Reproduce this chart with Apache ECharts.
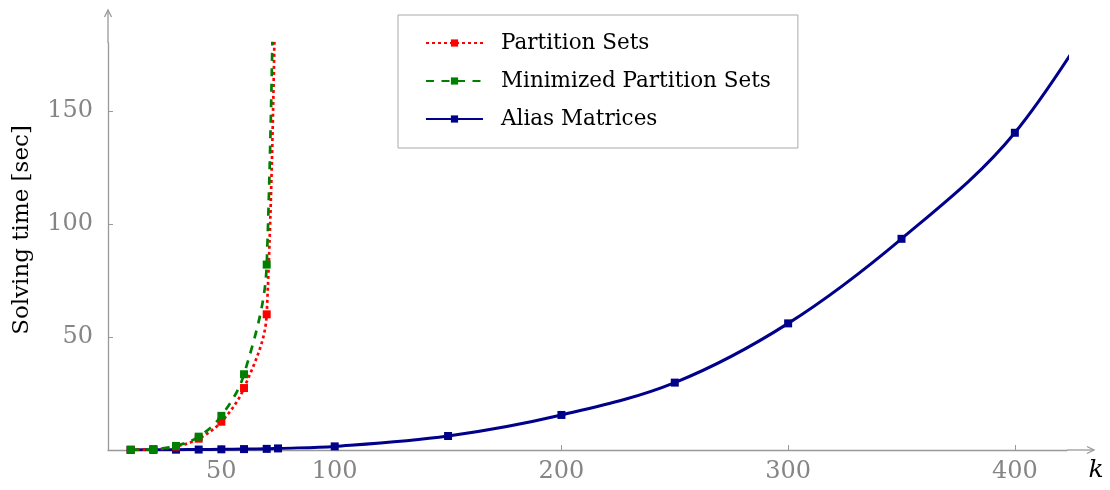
<!DOCTYPE html>
<html>
<head>
<meta charset="utf-8">
<script src="https://cdn.jsdelivr.net/npm/echarts@6/dist/echarts.min.js"></script>
<style>
html,body{margin:0;padding:0;background:#fff;}
#chart{width:1110px;height:490px;}
</style>
</head>
<body>
<div id="chart"></div>
<script>
// ---- data ----
const kPartition = [10, 20, 30, 40, 50, 60, 70, 75];
const partitionSets = [0.1, 0.3, 1.5, 5.0, 12.5, 27.4, 60, 350];
const minimizedPartitionSets = [0.1, 0.35, 1.8, 5.9, 15.1, 33.5, 82, 450];
const kAlias = [10, 20, 30, 40, 50, 60, 70, 75, 100, 150, 200, 250, 300, 350, 400, 450];
const aliasMatrices = [0.05, 0.1, 0.15, 0.2, 0.3, 0.4, 0.5, 0.7, 1.6, 6.2, 15.5, 29.8, 56, 93.4, 140.3, 216];
const xTicks = [50, 100, 200, 300, 400];
const yTicks = [50, 100, 150];
const seriesNames = ['Partition Sets', 'Minimized Partition Sets', 'Alias Matrices'];
const xMax = 423, yMax = 180;

const FONT = 'DejaVu Serif';
const AXIS = '#999999';
const LABEL = '#858585';

function pairs(xs, ys) { return xs.map((x, i) => [x, ys[i]]); }

const chart = echarts.init(document.getElementById('chart'), null, {renderer: 'canvas'});
chart.setOption({
  animation: false,
  backgroundColor: '#fff',
  grid: {left: 108, right: 43, top: 43, bottom: 40, containLabel: false},
  legend: {
    orient: 'vertical',
    left: 398, top: 15,
    backgroundColor: '#fff',
    borderColor: '#aaaaaa', borderWidth: 1, borderRadius: 0,
    padding: [17, 27, 18, 27],
    itemWidth: 57, itemHeight: 9, itemGap: 16,
    textStyle: {fontFamily: FONT, fontSize: 21.5, color: '#000', padding: [0, 0, 0, 13]},
    data: seriesNames
  },
  xAxis: {
    type: 'value', min: 0, max: xMax,
    splitLine: {show: false},
    axisLine: {show: true, onZero: false, lineStyle: {color: AXIS, width: 1.3}},
    axisTick: {show: true, inside: true, length: 5, customValues: xTicks, lineStyle: {color: AXIS}},
    axisLabel: {customValues: xTicks, margin: 10, fontFamily: FONT, fontSize: 24, color: LABEL}
  },
  yAxis: {
    type: 'value', min: 0, max: yMax,
    splitLine: {show: false},
    axisLine: {show: true, onZero: false, lineStyle: {color: AXIS, width: 1.3}},
    axisTick: {show: true, inside: true, length: 5, customValues: yTicks, lineStyle: {color: AXIS}},
    axisLabel: {customValues: yTicks, margin: 15, fontFamily: FONT, fontSize: 24, color: LABEL}
  },
  series: [
    {
      name: seriesNames[0], type: 'line', smooth: 0.35, z: 3,
      data: pairs(kPartition, partitionSets),
      symbol: 'rect', symbolSize: 8,
      itemStyle: {color: '#ff0000'},
      lineStyle: {color: '#ff0000', width: 2.7, type: [3, 3]}
    },
    {
      name: seriesNames[1], type: 'line', smooth: 0.35, z: 4,
      data: pairs(kPartition, minimizedPartitionSets),
      symbol: 'rect', symbolSize: 8,
      itemStyle: {color: '#008000'},
      lineStyle: {color: '#008000', width: 2.7, type: [8, 7.5]}
    },
    {
      name: seriesNames[2], type: 'line', smooth: 0.35, z: 2,
      data: pairs(kAlias, aliasMatrices),
      symbol: 'rect', symbolSize: 8,
      itemStyle: {color: '#00008b'},
      lineStyle: {color: '#00008b', width: 3}
    }
  ]
});

// axis-line extensions with arrows, axis titles
const o = chart.convertToPixel({gridIndex: 0}, [0, 0]);
const xe = chart.convertToPixel({gridIndex: 0}, [xMax, 0]);
const ye = chart.convertToPixel({gridIndex: 0}, [0, yMax]);
const xTip = xe[0] + 27, yTip = ye[1] - 33;
const st = {stroke: AXIS, lineWidth: 1.3, fill: null};
chart.setOption({
  graphic: [
    {type: 'line', shape: {x1: xe[0], y1: o[1], x2: xTip, y2: o[1]}, style: st, z: 10},
    {type: 'polyline', shape: {points: [[xTip - 7, o[1] - 3.5], [xTip, o[1]], [xTip - 7, o[1] + 3.5]]}, style: st, z: 10},
    {type: 'line', shape: {x1: o[0], y1: ye[1], x2: o[0], y2: yTip}, style: st, z: 10},
    {type: 'polyline', shape: {points: [[o[0] - 3.5, yTip + 7], [o[0], yTip], [o[0] + 3.5, yTip + 7]]}, style: st, z: 10},
    {type: 'text', x: xTip + 2, y: o[1] + 20,
     style: {text: 'k', fontFamily: FONT, fontStyle: 'italic', fontSize: 25, fill: '#000', align: 'center', verticalAlign: 'middle'}},
    {type: 'text', x: 22, y: (o[1] + yTip) / 2, rotation: Math.PI / 2,
     style: {text: 'Solving time [sec]', fontFamily: FONT, fontSize: 23, fill: '#000', align: 'center', verticalAlign: 'middle'}}
  ]
});
</script>
</body>
</html>
